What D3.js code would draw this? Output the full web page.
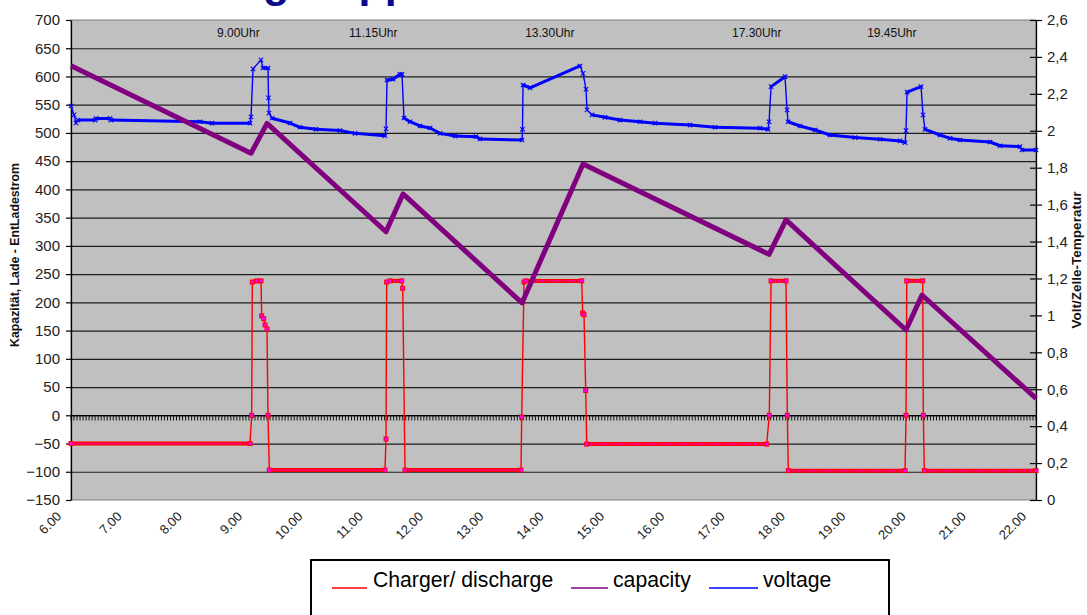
<!DOCTYPE html>
<html>
<head>
<meta charset="utf-8">
<script src="https://cdn.jsdelivr.net/npm/d3@7"></script>
<style>
  body { margin: 0; background: #fff; }
  svg { display: block; }
  text { font-family: Arial, "Liberation Sans", sans-serif; }
</style>
</head>
<body>
<svg id="chart" width="1087" height="615"></svg>
<script>
// ---- data -------------------------------------------------------------
const titleText  = "Ladung Doppelzelle";
const hourTicks  = d3.range(6, 23);                 // 6.00 ... 22.00
const leftTicks  = d3.range(-150, 701, 50);         // current / capacity axis
const rightTicks = d3.range(0, 14).map(i => i * 0.2); // volt per cell axis

const noteLabels = ["9.00Uhr", "11.15Uhr", "13.30Uhr", "17.30Uhr", "19.45Uhr"];
const noteHours  = [8.42, 10.61, 13.53, 16.96, 19.20];

// capacity (left axis)
const capHours  = [6.000, 8.985, 9.250, 11.223, 11.505, 13.478, 14.490, 17.574, 17.855, 19.845, 20.110, 22.000];
const capValues = [619, 464, 517, 325, 392, 199, 445, 285, 346, 151, 213, 30];

// charge / discharge current (left axis)
const curHours  = [6.000, 8.968, 8.996, 9.006, 9.079, 9.150, 9.162, 9.195, 9.217, 9.250, 9.266, 9.288,
                   11.206, 11.223, 11.234, 11.289, 11.483, 11.500, 11.538,
                   13.461, 13.473, 13.511, 13.544, 14.468, 14.484, 14.506, 14.534, 14.551,
                   17.535, 17.578, 17.607, 17.855, 17.877, 17.893,
                   19.829, 19.845, 19.857, 20.122, 20.132, 20.148, 22.000];
const curValues = [-50, -50, 0, 236, 238, 238, 176, 171, 160, 153, 0, -97,
                   -97, -42, 236, 238, 238, 225, -97,
                   -97, -3, 236, 238, 238, 181, 178, 44, -51,
                   -51, 0, 238, 238, 0, -98,
                   -98, 0, 238, 238, 0, -98, -98];

// cell voltage (right axis)
const voltHours  = [6.000, 6.050, 6.083, 6.116, 6.398, 6.415, 6.647, 6.663, 8.139, 8.338, 8.968,
                    8.985, 9.018, 9.150, 9.184, 9.267, 9.275, 9.283, 9.333, 9.631, 9.797, 10.062, 10.460, 10.709, 11.206,
                    11.223, 11.240, 11.339, 11.455, 11.488, 11.521, 11.621, 11.787, 11.953, 12.118, 12.367, 12.715, 12.782, 13.478,
                    13.486, 13.495, 13.611, 14.440, 14.490, 14.539, 14.556, 14.639, 14.854, 15.103, 15.435, 15.683, 16.264, 16.678, 17.424, 17.557,
                    17.574, 17.607, 17.839, 17.872, 17.889, 18.088, 18.336, 18.585, 18.999, 19.414, 19.746, 19.829,
                    19.845, 19.862, 20.094, 20.127, 20.160, 20.409, 20.575, 20.741, 21.238, 21.404, 21.736, 21.769, 22.000];
const voltValues = [2.134, 2.086, 2.042, 2.058, 2.058, 2.067, 2.067, 2.058, 2.049, 2.041, 2.041,
                    2.075, 2.335, 2.384, 2.340, 2.340, 2.178, 2.096, 2.068, 2.042, 2.019, 2.008, 2.001, 1.986, 1.973,
                    2.010, 2.275, 2.279, 2.306, 2.306, 2.069, 2.049, 2.026, 2.015, 1.986, 1.972, 1.968, 1.956, 1.950,
                    2.008, 2.248, 2.233, 2.351, 2.311, 2.225, 2.113, 2.086, 2.073, 2.058, 2.049, 2.041, 2.031, 2.019, 2.014, 2.008,
                    2.049, 2.239, 2.293, 2.113, 2.049, 2.026, 2.004, 1.977, 1.963, 1.954, 1.945, 1.936,
                    2.001, 2.209, 2.239, 2.086, 2.008, 1.977, 1.959, 1.950, 1.939, 1.919, 1.914, 1.896, 1.896];

const legendLabels = ["Charger/ discharge", "capacity", "voltage"];

// ---- layout -----------------------------------------------------------
const svg = d3.select("#chart");
const L = 71, R = 1036, T = 20, B = 500;

const x  = d3.scaleLinear().domain([6, 22]).range([L, R]);
const yL = d3.scaleLinear().domain([-150, 700]).range([B, T]);
const yR = d3.scaleLinear().domain([0, 2.6]).range([B, T]);

const colCur = "#ff0000", colCap = "#800080", colVolt = "#0000ff";

// slide heading (runs off the top edge)
svg.append("text").attr("x", 134).attr("y", -3)
  .attr("font-size", 43).attr("font-weight", "bold").attr("fill", "#0a0a8c")
  .text(titleText);

// plot background
svg.append("rect").attr("x", L).attr("y", T).attr("width", R - L).attr("height", B - T)
  .attr("fill", "#c0c0c0").attr("stroke", "#808080").attr("stroke-width", 1);

// horizontal gridlines
svg.append("g").selectAll("line").data(leftTicks.filter(v => v > -150 && v < 700)).join("line")
  .attr("x1", L).attr("x2", R).attr("y1", d => yL(d) + 0.5).attr("y2", d => yL(d) + 0.5)
  .attr("stroke", "#1e1e1e").attr("stroke-width", 1.2);

// category axis crossing at zero with a tick for every reading slot
const y0 = Math.round(yL(0)) + 0.5;
svg.append("line").attr("x1", L).attr("x2", R).attr("y1", y0).attr("y2", y0)
  .attr("stroke", "#000").attr("stroke-width", 1.2);
svg.append("g").selectAll("line").data(d3.range(0, 321)).join("line")
  .attr("x1", i => x(6 + i / 20)).attr("x2", i => x(6 + i / 20))
  .attr("y1", y0).attr("y2", y0 + 5)
  .attr("stroke", "#000").attr("stroke-width", 0.9);

// left axis
const fmtR = d => d3.format(".1~f")(d).replace(".", ",");
const gL = svg.append("g").attr("transform", `translate(${L},0)`)
  .call(d3.axisLeft(yL).tickValues(leftTicks).tickSize(5).tickPadding(6).tickSizeOuter(0));
gL.select(".domain").attr("stroke", "#000").attr("stroke-width", 1.3);
gL.selectAll(".tick line").attr("stroke", "#000").attr("stroke-width", 1.2);
gL.selectAll(".tick text").attr("font-size", 15).attr("fill", "#222")
  .style("font-family", "Arial, 'Liberation Sans', sans-serif");

// right axis
const gR = svg.append("g").attr("transform", `translate(${R},0)`)
  .call(d3.axisRight(yR).tickValues(rightTicks).tickFormat(fmtR).tickSize(6).tickPadding(5).tickSizeOuter(0));
gR.select(".domain").attr("stroke", "#000").attr("stroke-width", 1.3);
gR.selectAll(".tick line").attr("x1", -6).attr("stroke", "#000").attr("stroke-width", 1.2);
gR.selectAll(".tick text").attr("font-size", 15).attr("fill", "#222")
  .style("font-family", "Arial, 'Liberation Sans', sans-serif");

// hour labels, slanted
svg.append("g").selectAll("text").data(hourTicks).join("text")
  .attr("transform", d => `translate(${x(d) - 12},${B + 14}) rotate(-45)`)
  .attr("text-anchor", "end").attr("dy", "0.35em")
  .attr("font-size", 13).attr("fill", "#222")
  .text(d => d3.format(".2f")(d));

// axis titles
svg.append("text").attr("transform", `translate(19,255) rotate(-90)`)
  .attr("text-anchor", "middle").attr("font-size", 12.3).attr("font-weight", "bold").attr("fill", "#111")
  .text("Kapazität, Lade - EntLadestrom");
svg.append("text").attr("transform", `translate(1081,260) rotate(-90)`)
  .attr("text-anchor", "middle").attr("font-size", 13.5).attr("font-weight", "bold").attr("fill", "#111")
  .text("Volt/Zelle-Temperatur");

// time notes above the charge phases
svg.append("g").selectAll("text").data(noteLabels).join("text")
  .attr("x", (d, i) => x(noteHours[i])).attr("y", 37)
  .attr("font-size", 12).attr("fill", "#111")
  .text(d => d);

// ---- series -----------------------------------------------------------
const zip = (hs, vs) => hs.map((h, i) => ({ h, v: vs[i] }));
const capData  = zip(capHours, capValues);
const curData  = zip(curHours, curValues);
const voltData = zip(voltHours, voltValues);

// neighbouring readings joined by a gentle slope (dense logging shows there as a thick band)
function gentlePairs(data, y, maxSlope) {
  const out = [];
  for (let i = 1; i < data.length; i++) {
    const dx = Math.abs(x(data[i].h) - x(data[i - 1].h));
    const dy = Math.abs(y(data[i].v) - y(data[i - 1].v));
    if (dy <= 1.5 || dy / Math.max(dx, 0.01) < maxSlope) out.push([data[i - 1], data[i]]);
  }
  return out;
}

// current
const curLine = d3.line().x(d => x(d.h)).y(d => yL(d.v));
svg.append("path").datum(curData).attr("d", curLine)
  .attr("fill", "none").attr("stroke", colCur).attr("stroke-width", 1.4);
const curBands = gentlePairs(curData, yL, 0.8);
const curFlat = svg.append("g");
curFlat.selectAll("path.band").data(curBands).join("path").attr("class", "band")
  .attr("d", curLine).attr("fill", "none").attr("stroke", colCur).attr("stroke-width", 4);
curFlat.selectAll("path.dots").data(curBands).join("path").attr("class", "dots")
  .attr("d", curLine).attr("fill", "none").attr("stroke", "#ff00ff").attr("stroke-width", 1.6)
  .attr("stroke-dasharray", "2 1.2").attr("opacity", 0.7);
svg.append("g").selectAll("rect").data(curData).join("rect")
  .attr("x", d => x(d.h) - 2).attr("y", d => yL(d.v) - 2).attr("width", 4).attr("height", 4)
  .attr("fill", "#ff00ff").attr("stroke", colCur).attr("stroke-width", 1);

// voltage
const voltLine = d3.line().x(d => x(d.h)).y(d => yR(d.v));
svg.append("path").datum(voltData).attr("d", voltLine)
  .attr("fill", "none").attr("stroke", colVolt).attr("stroke-width", 1.4);
svg.append("g").selectAll("path").data(gentlePairs(voltData, yR, 0.8)).join("path")
  .attr("d", voltLine).attr("fill", "none").attr("stroke", colVolt).attr("stroke-width", 3)
  .attr("stroke-linecap", "round");
svg.append("g").selectAll("path").data(voltData).join("path")
  .attr("d", d => { const cx = x(d.h), cy = yR(d.v), s = 2.2;
    return `M${cx - s},${cy - s}L${cx + s},${cy + s}M${cx - s},${cy + s}L${cx + s},${cy - s}`; })
  .attr("stroke", colVolt).attr("stroke-width", 1.1).attr("fill", "none");

// capacity
svg.append("path").datum(capData)
  .attr("d", d3.line().x(d => x(d.h)).y(d => yL(d.v)))
  .attr("fill", "none").attr("stroke", colCap).attr("stroke-width", 5)
  .attr("stroke-linejoin", "round");

// ---- legend -----------------------------------------------------------
svg.append("rect").attr("x", 311).attr("y", 560).attr("width", 578).attr("height", 70)
  .attr("fill", "#fff").attr("stroke", "#000").attr("stroke-width", 2);
const legColors = [colCur, colCap, colVolt];
const legSample = [[332, 367], [571, 608], [709, 758]];
const legText   = [373, 613, 763];
legendLabels.forEach((t, i) => {
  svg.append("line").attr("x1", legSample[i][0]).attr("x2", legSample[i][1])
    .attr("y1", 588).attr("y2", 588).attr("stroke", legColors[i]).attr("stroke-width", 1.6);
  svg.append("text").attr("x", legText[i]).attr("y", 587)
    .attr("font-size", 21.2).attr("fill", "#000").text(t);
});
</script>
</body>
</html>
